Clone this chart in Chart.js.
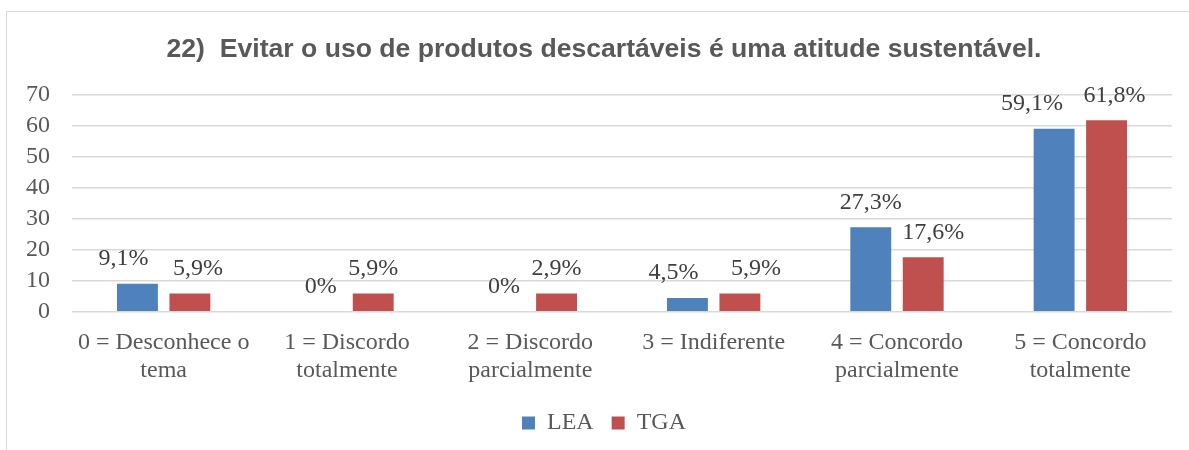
<!DOCTYPE html>
<html>
<head>
<meta charset="utf-8">
<script src="https://cdn.jsdelivr.net/npm/chart.js@4/dist/chart.umd.min.js"></script>
<style>
  html, body { margin:0; padding:0; background:#fff; }
  #wrap { position:relative; width:1189px; height:450px; overflow:hidden; }
  #frame { position:absolute; left:6px; top:11px; width:1300px; height:600px; border:1px solid #d9d9d9; }
  #chart { position:absolute; left:0; top:0; }
</style>
</head>
<body>
<div id="wrap">
  <div id="frame"></div>
  <canvas id="chart" width="1189" height="450"></canvas>
</div>
<script>
// ------------------------
// DATA
// ------------------------
const categories = [
  ["0 = Desconhece o", "tema"],
  ["1 = Discordo", "totalmente"],
  ["2 = Discordo", "parcialmente"],
  "3 = Indiferente",
  ["4 = Concordo", "parcialmente"],
  ["5 = Concordo", "totalmente"]
];
const leaValues = [9.1, 0, 0, 4.5, 27.3, 59.1];
const tgaValues = [5.9, 5.9, 5.9, 5.9, 17.6, 61.8];
const leaLabels = ["9,1%", "0%", "0%", "4,5%", "27,3%", "59,1%"];
const tgaLabels = ["5,9%", "5,9%", "2,9%", "5,9%", "17,6%", "61,8%"];
const yTicks = [0, 10, 20, 30, 40, 50, 60, 70];

const SERIF = "'Liberation Serif', 'Times New Roman', serif";

// labels above bars (Excel moved some by hand)
const barLabels = {
  id: "barLabels",
  afterDatasetsDraw(chart, args, opts){
    const ctx = chart.ctx;
    ctx.save();
    ctx.font = "24px " + SERIF;
    ctx.fillStyle = "#404040";
    ctx.textAlign = "center";
    ctx.textBaseline = "middle";
    chart.data.datasets.forEach((ds, di)=>{
      const meta = chart.getDatasetMeta(di);
      meta.data.forEach((bar, i)=>{
        const dx = opts.nudge[di][i] || 0;
        ctx.fillText(ds.labelsText[i], bar.x + dx, bar.y - 25);
      });
    });
    ctx.restore();
  }
};

new Chart(document.getElementById("chart").getContext("2d"), {
  type: "bar",
  data: {
    labels: categories,
    datasets: [
      { label: "LEA", data: leaValues, labelsText: leaLabels, backgroundColor: "#4f81bd",
        categoryPercentage: 0.572, barPercentage: 0.78 },
      { label: "TGA", data: tgaValues, labelsText: tgaLabels, backgroundColor: "#c0504d",
        categoryPercentage: 0.572, barPercentage: 0.78 }
    ]
  },
  options: {
    responsive: false,
    animation: false,
    layout: { padding: { left: 23, right: 4, top: 0, bottom: 5 } },
    scales: {
      x: {
        grid: { display: false },
        border: { display: false },
        afterFit: s => { s.height -= 1; s.paddingLeft = 0; s.paddingRight = 0; },
        ticks: { color: "#595959", padding: 9, maxRotation: 0, autoSkip: false,
                 font: { family: SERIF, size: 24, lineHeight: 1.17 } }
      },
      y: {
        min: 0, max: 70,
        afterBuildTicks: s => { s.ticks = yTicks.map(v => ({ value: v })); },
        afterFit: s => { s.width = 49; },
        grid: { color: "#d9d9d9", lineWidth: 1.5, drawTicks: false },
        border: { display: false },
        ticks: { color: "#595959", padding: 22, autoSkip: false,
                 font: { family: SERIF, size: 24 } }
      },
      // empty spacer on the right so the title centres like the original
      spacer: {
        type: "linear", position: "right", min: 0, max: 1,
        grid: { display: false }, border: { display: false },
        ticks: { display: false },
        afterFit: s => { s.width = 13; }
      }
    },
    plugins: {
      title: {
        display: true,
        text: "22)  Evitar o uso de produtos descartáveis é uma atitude sustentável.",
        color: "#595959",
        font: { family: "'Liberation Sans', Arial, sans-serif", size: 26.6, weight: "bold", lineHeight: 1.2 },
        padding: { top: 34, bottom: 29 }
      },
      legend: {
        position: "bottom",
        labels: { color: "#595959", boxWidth: 13, boxHeight: 13, padding: 18,
                  font: { family: SERIF, size: 24 } }
      },
      tooltip: { enabled: false },
      barLabels: { nudge: [[-14, 0, 0, -14, 0, -22], [8, 0, 0, 16, 10, 8]] }
    }
  },
  plugins: [barLabels]
});
</script>
</body>
</html>
